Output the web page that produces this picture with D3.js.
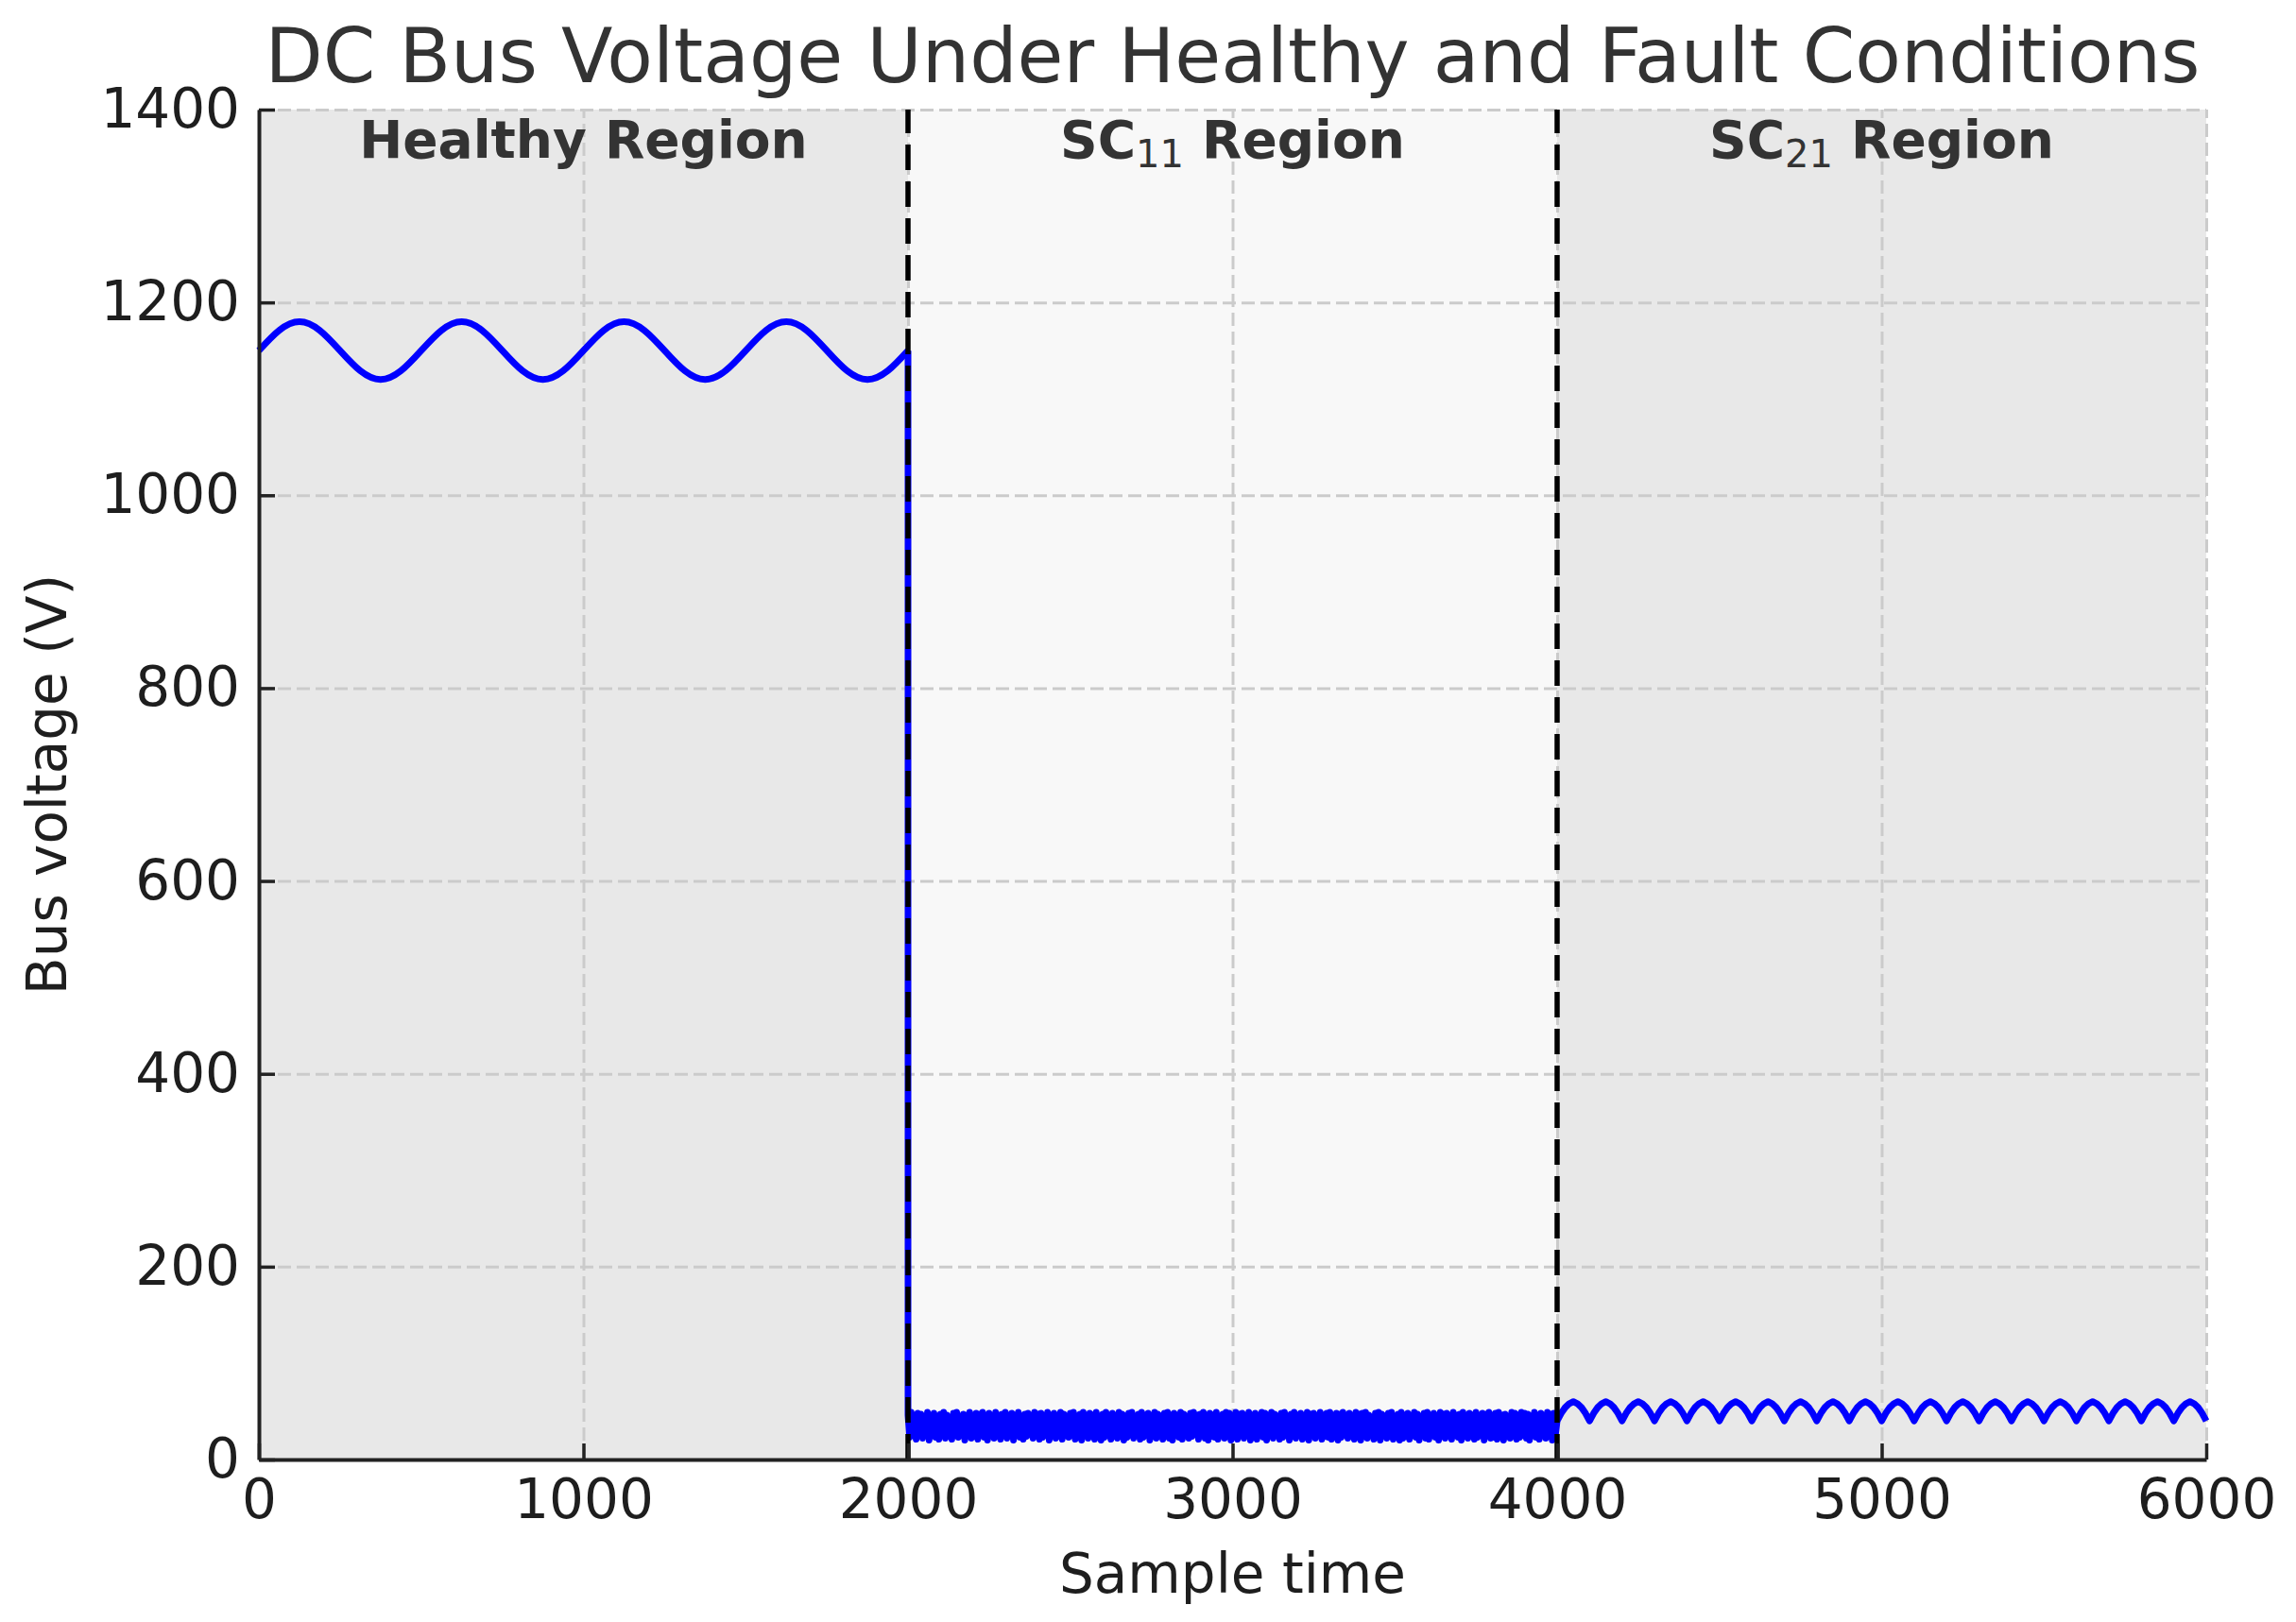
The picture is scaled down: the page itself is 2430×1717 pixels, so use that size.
<!DOCTYPE html>
<html>
<head>
<meta charset="utf-8">
<script src="https://cdn.jsdelivr.net/npm/d3@7"></script>
<style>
  body { margin: 0; background: #fff; }
  text { font-family: "DejaVu Sans", sans-serif; }
</style>
</head>
<body>
<div id="chart"></div>
<script>
// data
var xTicks = [0, 1000, 2000, 3000, 4000, 5000, 6000];
var yTicks = [0, 200, 400, 600, 800, 1000, 1200, 1400];
var regionNames = ["Healthy", "SC11", "SC21"];
var regionEdges = [0, 2000, 4000, 6000];
var faultLines = [2000, 4000];

// healthy region, one value every 62.5 samples
var healthyStep = 62.5;
var healthyV = [
  1150, 1171, 1180, 1171, 1150, 1129, 1120, 1129,
  1150, 1171, 1180, 1171, 1150, 1129, 1120, 1129,
  1150, 1171, 1180, 1171, 1150, 1129, 1120, 1129,
  1150, 1171, 1180, 1171, 1150, 1129, 1120, 1129,
  1150
];

// SC11 region, noisy, one value every 5 samples from 2000
var sc11Start = 2000, sc11Step = 5;
var sc11V = [
  46, 23, 49, 26, 44, 21, 48, 29, 47, 22, 42, 25, 49, 20, 45, 27, 48, 23, 43, 21,
  47, 30, 49, 22, 46, 24, 41, 21, 48, 26, 49, 23, 44, 28, 47, 20, 46, 25, 49, 22,
  43, 24, 48, 21, 47, 31, 49, 23, 45, 20, 48, 26, 42, 22, 49, 25, 46, 21, 47, 29,
  49, 22, 44, 25, 48, 20, 46, 27, 49, 23, 40, 21, 47, 24, 48, 30, 45, 22, 49, 26,
  47, 21, 48, 23, 43, 25, 49, 20, 46, 28, 48, 22, 44, 24, 49, 21, 47, 32, 45, 23,
  48, 26, 49, 21, 45, 23, 47, 20, 49, 25, 42, 22, 48, 27, 46, 21, 49, 24, 44, 20,
  47, 23, 49, 29, 46, 21, 48, 24, 43, 22, 49, 26, 47, 20, 45, 23, 48, 31, 49, 22,
  44, 25, 47, 21, 49, 23, 46, 27, 48, 20, 41, 24, 49, 22, 47, 26, 45, 21, 48, 24,
  49, 22, 46, 20, 48, 28, 44, 23, 49, 21, 47, 25, 42, 22, 48, 24, 49, 30, 46, 21,
  47, 26, 49, 22, 45, 20, 48, 24, 46, 23, 49, 21, 43, 27, 47, 22, 49, 25, 48, 20,
  45, 23, 49, 21, 47, 29, 48, 22, 44, 25, 49, 20, 46, 24, 48, 21, 42, 26, 49, 23,
  48, 20, 46, 25, 49, 22, 47, 31, 45, 21, 48, 23, 49, 26, 44, 20, 47, 24, 49, 22,
  46, 27, 48, 21, 43, 23, 49, 20, 47, 25, 48, 22, 45, 28, 49, 21, 46, 24, 48, 23,
  49, 21, 44, 26, 48, 20, 47, 23, 49, 29, 46, 22, 48, 24, 41, 21, 49, 25, 47, 20,
  48, 24, 49, 22, 46, 27, 44, 21, 48, 23, 49, 20, 47, 26, 45, 22, 48, 30, 49, 21,
  43, 25, 47, 20, 49, 22, 46, 24, 48, 21, 45, 28, 49, 23, 47, 20, 44, 25, 48, 22,
  49, 21, 46, 26, 48, 23, 42, 20, 49, 24, 47, 22, 48, 31, 45, 21, 49, 25, 46, 23,
  47, 20, 49, 24, 44, 22, 48, 27, 46, 21, 49, 23, 43, 25, 48, 20, 47, 28, 49, 22,
  45, 23, 48, 21, 49, 26, 46, 20, 47, 24, 42, 22, 49, 27, 48, 21, 46, 23, 49, 25,
  48, 22, 47, 20, 45, 26, 49, 23, 46, 21, 48, 29, 44, 22, 49, 24, 47, 20, 48, 26
];

// SC21 region, rectified ripple, one value every 12.5 samples from 4000
var sc21Start = 4000, sc21Step = 12.5;
var sc21V = [
  40, 48, 54, 58, 60, 58, 54, 48,
  40, 48, 54, 58, 60, 58, 54, 48,
  40, 48, 54, 58, 60, 58, 54, 48,
  40, 48, 54, 58, 60, 58, 54, 48,
  40, 48, 54, 58, 60, 58, 54, 48,
  40, 48, 54, 58, 60, 58, 54, 48,
  40, 48, 54, 58, 60, 58, 54, 48,
  40, 48, 54, 58, 60, 58, 54, 48,
  40, 48, 54, 58, 60, 58, 54, 48,
  40, 48, 54, 58, 60, 58, 54, 48,
  40, 48, 54, 58, 60, 58, 54, 48,
  40, 48, 54, 58, 60, 58, 54, 48,
  40, 48, 54, 58, 60, 58, 54, 48,
  40, 48, 54, 58, 60, 58, 54, 48,
  40, 48, 54, 58, 60, 58, 54, 48,
  40, 48, 54, 58, 60, 58, 54, 48,
  40, 48, 54, 58, 60, 58, 54, 48,
  40, 48, 54, 58, 60, 58, 54, 48,
  40, 48, 54, 58, 60, 58, 54, 48,
  40, 48, 54, 58, 60, 58, 54, 48,
  40
];

var svgWidth = 2430;
var svgHeight = 1717;
var margin = { top: 116, right: 95, bottom: 172, left: 274 };
var width = svgWidth - margin.left - margin.right;
var height = svgHeight - margin.top - margin.bottom;

var svg = d3.select("#chart")
  .append("svg")
  .attr("width", svgWidth)
  .attr("height", svgHeight);

var chartGroup = svg.append("g")
  .attr("transform", `translate(${margin.left}, ${margin.top})`);

var xScale = d3.scaleLinear().domain([0, 6000]).range([0, width]);
var yScale = d3.scaleLinear().domain([0, 1400]).range([height, 0]);

// shaded regions
var regionFill = ["#e8e8e8", "#f8f8f8", "#e8e8e8"];
chartGroup.selectAll("rect.region")
  .data(regionNames)
  .enter()
  .append("rect")
  .attr("class", "region")
  .attr("x", (d, i) => xScale(regionEdges[i]))
  .attr("width", (d, i) => xScale(regionEdges[i + 1]) - xScale(regionEdges[i]))
  .attr("y", 0)
  .attr("height", height)
  .attr("fill", (d, i) => regionFill[i]);

// grid
var xGrid = chartGroup.append("g")
  .attr("transform", `translate(0, ${height})`)
  .call(d3.axisBottom(xScale).tickValues(xTicks).tickSize(-height).tickFormat(""));
var yGrid = chartGroup.append("g")
  .call(d3.axisLeft(yScale).tickValues(yTicks).tickSize(-width).tickFormat(""));
[xGrid, yGrid].forEach(function(g) {
  g.select(".domain").remove();
  g.selectAll("line")
    .attr("stroke", "#cbcbcb")
    .attr("stroke-width", 3)
    .attr("stroke-dasharray", "14,6");
});

// voltage trace
var healthy = healthyV.map((v, i) => [i * healthyStep, v]);
var fault = [[2000, healthyV[healthyV.length - 1]]]
  .concat(sc11V.map((v, i) => [sc11Start + i * sc11Step, v]))
  .concat(sc21V.map((v, i) => [sc21Start + i * sc21Step, v]));

var smoothLine = d3.line()
  .x(d => xScale(d[0]))
  .y(d => yScale(d[1]))
  .curve(d3.curveNatural);
var rawLine = d3.line()
  .x(d => xScale(d[0]))
  .y(d => yScale(d[1]));

chartGroup.append("path")
  .attr("d", smoothLine(healthy))
  .attr("fill", "none")
  .attr("stroke", "#0000ff")
  .attr("stroke-width", 7)
  .attr("stroke-linejoin", "round");
chartGroup.append("path")
  .attr("d", rawLine(fault))
  .attr("fill", "none")
  .attr("stroke", "#0000ff")
  .attr("stroke-width", 7)
  .attr("stroke-linejoin", "round");

// fault onset lines (drawn from bottom up)
chartGroup.selectAll("line.fault")
  .data(faultLines)
  .enter()
  .append("line")
  .attr("class", "fault")
  .attr("x1", d => xScale(d))
  .attr("x2", d => xScale(d))
  .attr("y1", height)
  .attr("y2", 0)
  .attr("stroke", "#000")
  .attr("stroke-width", 5.5)
  .attr("stroke-dasharray", "27,12");

// axes
var bottomAxis = d3.axisBottom(xScale).tickValues(xTicks)
  .tickSizeInner(-17).tickSizeOuter(0).tickPadding(21).tickFormat(d3.format("d"));
var leftAxis = d3.axisLeft(yScale).tickValues(yTicks)
  .tickSizeInner(-17).tickSizeOuter(0).tickPadding(20).tickFormat(d3.format("d"));

var xAxisG = chartGroup.append("g")
  .attr("transform", `translate(0, ${height})`)
  .call(bottomAxis);
var yAxisG = chartGroup.append("g")
  .call(leftAxis);
[xAxisG, yAxisG].forEach(function(g) {
  g.select(".domain").attr("stroke", "#222").attr("stroke-width", 4);
  g.selectAll(".tick line").attr("stroke", "#222").attr("stroke-width", 3.5);
  g.selectAll(".tick text")
    .attr("fill", "#1e1e1e")
    .style("font-family", "DejaVu Sans")
    .style("font-size", "58px");
});

// region labels
var labelG = chartGroup.append("g");
regionNames.forEach(function(name, i) {
  var cx = xScale((regionEdges[i] + regionEdges[i + 1]) / 2);
  var t = labelG.append("text")
    .attr("x", cx)
    .attr("y", 51)
    .attr("text-anchor", "middle")
    .attr("fill", "#333")
    .style("font-size", "55px")
    .style("font-weight", "bold");
  if (name === "Healthy") {
    t.text("Healthy Region");
  } else {
    t.append("tspan").text("SC");
    t.append("tspan").attr("dy", 10).style("font-weight", "normal")
      .style("font-size", "40px").text(name.slice(2));
    t.append("tspan").attr("dy", -10).text(" Region");
  }
});

// title and axis labels
svg.append("text")
  .attr("x", margin.left + width / 2)
  .attr("y", 87)
  .attr("text-anchor", "middle")
  .attr("fill", "#333")
  .style("font-size", "79.5px")
  .text("DC Bus Voltage Under Healthy and Fault Conditions");

svg.append("text")
  .attr("x", margin.left + width / 2)
  .attr("y", 1686)
  .attr("text-anchor", "middle")
  .attr("fill", "#1e1e1e")
  .style("font-size", "58px")
  .text("Sample time");

svg.append("text")
  .attr("transform", `translate(70, ${margin.top + height / 2}) rotate(-90)`)
  .attr("text-anchor", "middle")
  .attr("fill", "#1e1e1e")
  .style("font-size", "58px")
  .text("Bus voltage (V)");
</script>
</body>
</html>
